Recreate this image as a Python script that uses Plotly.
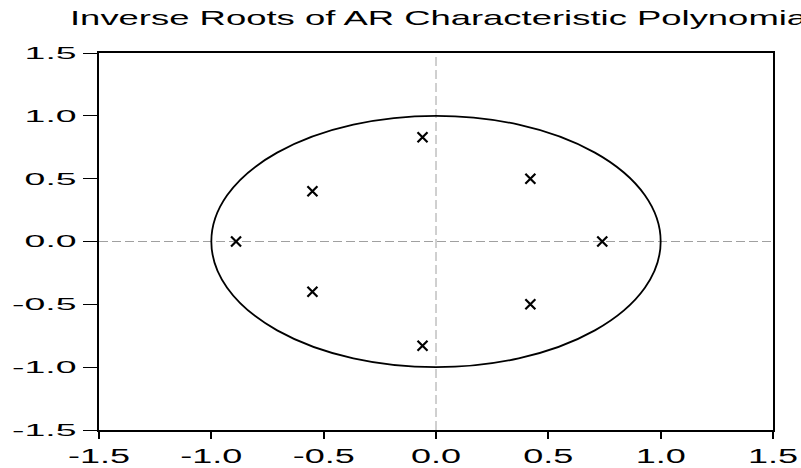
import plotly.graph_objects as go

root_real = [-0.89, -0.55, -0.55, -0.06, -0.06, 0.42, 0.42, 0.74]
root_imag = [0.00, 0.40, -0.40, 0.83, -0.83, 0.50, -0.50, 0.00]

tick_vals = [-1.5, -1.0, -0.5, 0.0, 0.5, 1.0, 1.5]
tick_text = ["-1.5", "-1.0", "-0.5", "0.0", "0.5", "1.0", "1.5"]

title_text = "Inverse Roots of AR Characteristic Polynomial"
FONT = "Liberation Sans, Arial, sans-serif"

fig = go.Figure()
fig.add_trace(go.Scatter(
    x=root_real, y=root_imag, mode="markers",
    marker=dict(symbol="x-thin", size=10, color="black",
                line=dict(width=2.2, color="black")),
    showlegend=False, hoverinfo="x+y",
))

# unit circle
fig.add_shape(type="circle", xref="x", yref="y", x0=-1, y0=-1, x1=1, y1=1,
              line=dict(color="black", width=1.8))
# dashed zero lines
fig.add_shape(type="line", xref="x", yref="y", x0=0, x1=0, y0=-1.5, y1=1.5,
              line=dict(color="#a0a0a0", width=1, dash="9px,4px"), layer="below")
fig.add_shape(type="line", xref="x", yref="y", x0=-1.5, x1=1.5, y0=0, y1=0,
              line=dict(color="#a0a0a0", width=1, dash="9px,4px"), layer="below")

fig.update_layout(
    width=801, height=468,
    margin=dict(l=99, r=28, t=53, b=38, autoexpand=False),
    paper_bgcolor="white", plot_bgcolor="white",
    font=dict(family=FONT, color="black"),
    title=dict(text=title_text, x=70 / 801, xref="container", xanchor="left",
               y=1 - 17.5 / 468, yref="container", yanchor="middle",
               automargin=False,
               font=dict(family=FONT, size=21, color="black")),
    xaxis=dict(range=[-1.5, 1.5], tickvals=tick_vals, ticktext=tick_text,
               showgrid=False, zeroline=False, showline=True, linecolor="black",
               linewidth=1.5, mirror=True, ticks="outside", ticklen=7,
               tickwidth=1.5, tickcolor="black", automargin=False,
               tickfont=dict(family=FONT, size=20, color="black")),
    yaxis=dict(range=[-1.5, 1.5], tickvals=tick_vals, ticktext=tick_text,
               showgrid=False, zeroline=False, showline=True, linecolor="black",
               linewidth=2, mirror=True, ticks="outside", ticklen=14,
               tickwidth=1, tickcolor="black", ticklabelstandoff=3,
               automargin=False,
               tickfont=dict(family=FONT, size=17, color="black")),
)

post = """
document.body.style.margin = '0';
document.body.style.padding = '0';
var gd = document.getElementById('{plot_id}');
function stretch(sel, k){
  gd.querySelectorAll(sel).forEach(function(t){
    var w = t.getComputedTextLength();
    t.setAttribute('textLength', (w*k).toFixed(1));
    t.setAttribute('lengthAdjust', 'spacingAndGlyphs');
  });
}
stretch('.xtick text', 1.8);
stretch('.ytick text', 2.2);
stretch('text.gtitle', 1.735);
"""

fig.write_html("out.html", post_script=post, config={"displayModeBar": False})
